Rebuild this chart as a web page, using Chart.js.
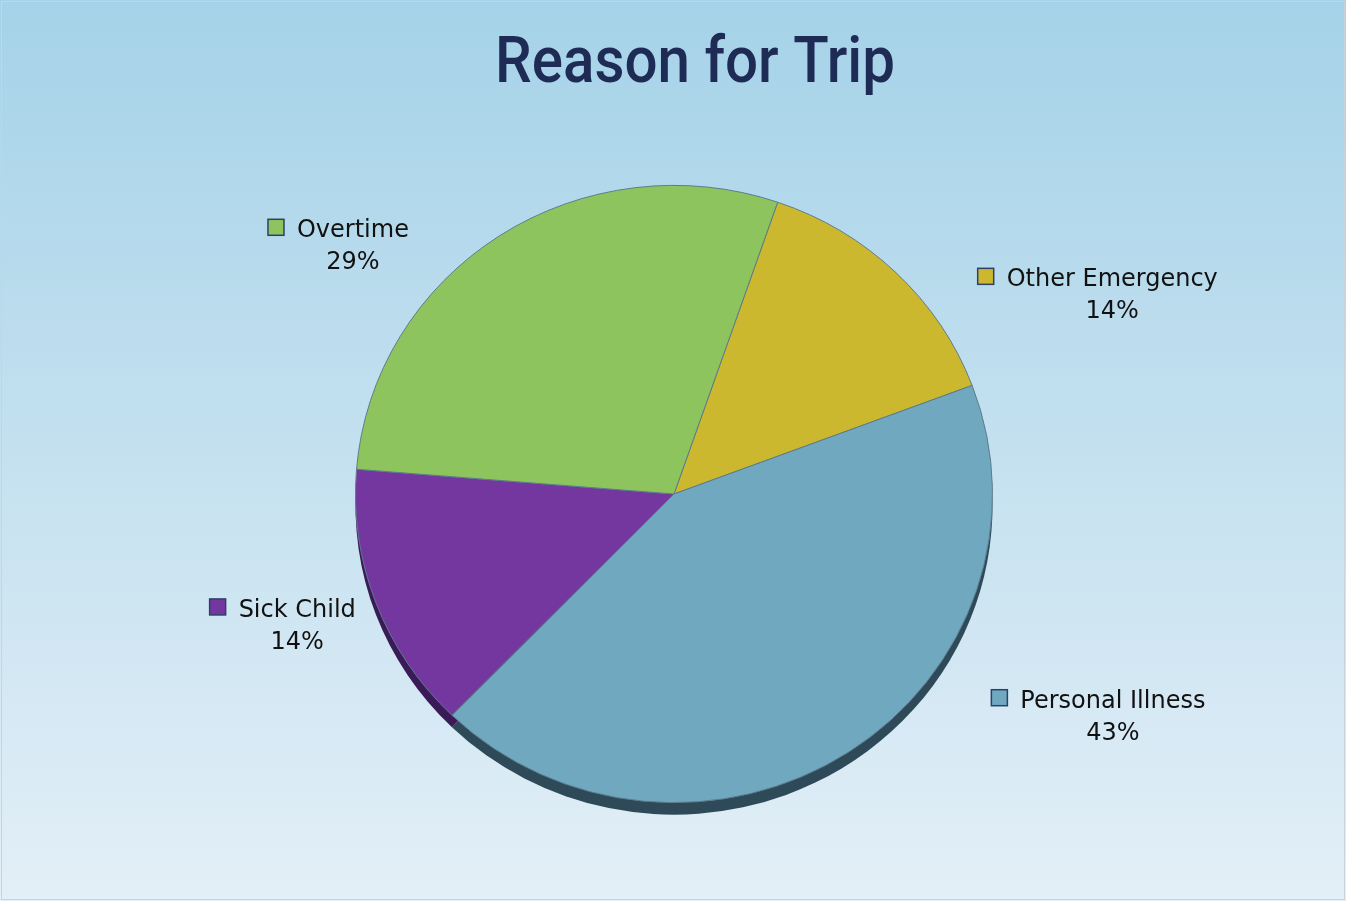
<!DOCTYPE html>
<html>
<head>
<meta charset="utf-8">
<script src="https://cdn.jsdelivr.net/npm/chart.js@4.4.0/dist/chart.umd.min.js"></script>
<style>
  html, body { margin: 0; padding: 0; background: #fff; }
  #wrap { width: 1346px; height: 901px; }
</style>
</head>
<body>
<div id="wrap"><canvas id="myChart" width="1346" height="901"></canvas></div>
<script>
// data
const chartTitle = 'Reason for Trip';
const categories = ['Other Emergency', 'Personal Illness', 'Sick Child', 'Overtime'];
const percentValues = [14, 43, 14, 29];
const sliceColors = ['#cbb82f', '#6fa8bf', '#7437a0', '#8ec45e'];
const shadowColors = ['#6b5f18', '#2e4a58', '#3b1a58', '#4a6a30'];

// label anchors, as multiples of the radius from the pie centre
const labelAnchors = [[1.376, -0.652], [1.378, 0.671], [-1.183, 0.386], [-1.008, -0.806]];
const squashY = 0.969; // slight tilt of the pie

const bgPlugin = {
    id: 'bg',
    beforeDraw(chart) {
        const { ctx, width, height } = chart;
        const g = ctx.createLinearGradient(0, 0, 0, height);
        g.addColorStop(0, '#a5d2e8');
        g.addColorStop(1, '#e3eff7');
        ctx.save();
        ctx.fillStyle = g;
        ctx.fillRect(0, 0, width, height);
        ctx.strokeStyle = '#c9d3d9';
        ctx.lineWidth = 1;
        ctx.strokeRect(1.5, 1.5, width - 3, height - 3);
        ctx.restore();
    }
};

const tiltPlugin = {
    id: 'tilt',
    beforeDatasetsDraw(chart) {
        const ctx = chart.ctx;
        const arcs = chart.getDatasetMeta(0).data;
        const cx = arcs[0].x, cy = arcs[0].y;
        ctx.save();
        ctx.translate(cx, cy);
        ctx.scale(1, squashY);
        ctx.translate(-cx, -cy);
        // side of the pie (3D edge)
        arcs.forEach((a, i) => {
            ctx.beginPath();
            ctx.moveTo(a.x, a.y + 12 / squashY);
            ctx.arc(a.x, a.y + 12 / squashY, a.outerRadius, a.startAngle, a.endAngle);
            ctx.closePath();
            ctx.fillStyle = shadowColors[i];
            ctx.fill();
        });
    },
    afterDatasetsDraw(chart) {
        chart.ctx.restore();
    }
};

const labelPlugin = {
    id: 'labels',
    afterDraw(chart) {
        const ctx = chart.ctx;
        const arcs = chart.getDatasetMeta(0).data;
        const cx = arcs[0].x, cy = arcs[0].y, r = arcs[0].outerRadius;
        ctx.save();
        // title
        ctx.font = '500 64px Roboto';
        ctx.fillStyle = '#1e2b55';
        ctx.textBaseline = 'alphabetic';
        ctx.textAlign = 'center';
        const tw = ctx.measureText(chartTitle).width;
        ctx.save();
        ctx.translate(695, 82);
        ctx.scale(400 / tw, 1);
        ctx.fillText(chartTitle, 0, 0);
        ctx.restore();

        ctx.font = '24px "DejaVu Sans"';
        categories.forEach((name, i) => {
            const x = cx + labelAnchors[i][0] * r;
            const y = cy + labelAnchors[i][1] * r;
            const w = ctx.measureText(name).width;
            ctx.fillStyle = '#111';
            ctx.textAlign = 'center';
            ctx.fillText(name, x, y);
            ctx.fillText(percentValues[i] + '%', x, y + 32);
            const sx = x - w / 2 - 29;
            ctx.fillStyle = sliceColors[i];
            ctx.fillRect(sx, y - 18, 16, 16);
            ctx.strokeStyle = '#2f3f6a';
            ctx.lineWidth = 1.5;
            ctx.strokeRect(sx, y - 18, 16, 16);
        });
        ctx.restore();
    }
};

const ctx = document.getElementById('myChart').getContext('2d');
const myChart = new Chart(ctx, {
    type: 'pie',
    data: {
        labels: categories,
        datasets: [{
            data: percentValues,
            backgroundColor: sliceColors,
            borderColor: '#5d7b8c',
            borderWidth: 1
        }]
    },
    options: {
        responsive: false,
        animation: false,
        rotation: 19,
        layout: { padding: { top: 175, bottom: 88, left: 2, right: 0 } },
        plugins: {
            legend: { display: false },
            tooltip: { enabled: false }
        }
    },
    plugins: [bgPlugin, tiltPlugin, labelPlugin]
});
</script>
</body>
</html>
